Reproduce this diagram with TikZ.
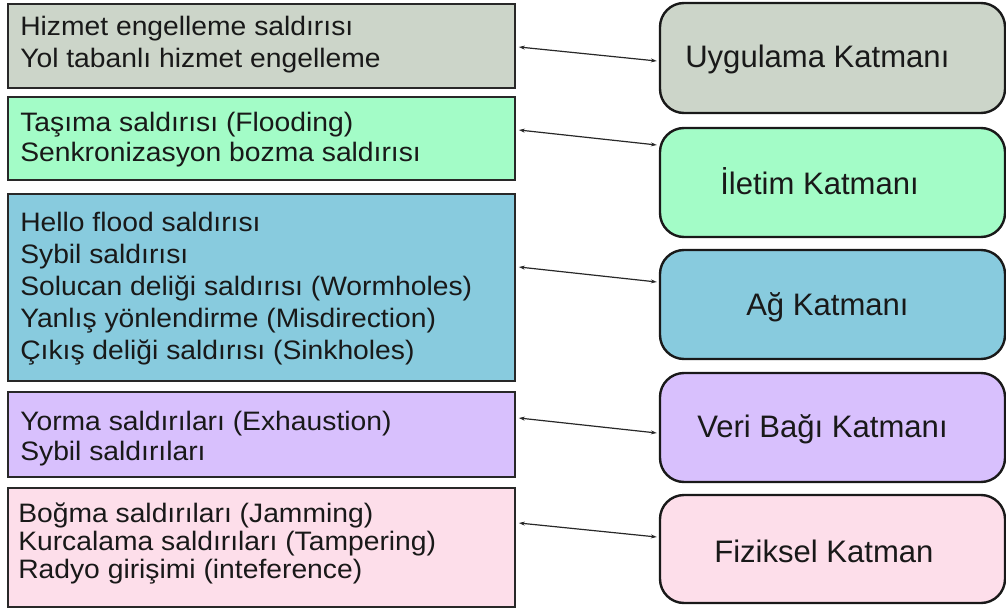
\documentclass[tikz,border=0pt]{standalone}
\usepackage{fontspec}
\setmainfont{Liberation Sans}
\newfontfamily\listfont[FakeStretch=1.06]{Liberation Sans}
\usetikzlibrary{arrows.meta,calc}

\definecolor{appfill}{RGB}{204,213,201}
\definecolor{transfill}{RGB}{163,252,199}
\definecolor{netfill}{RGB}{136,203,222}
\definecolor{linkfill}{RGB}{216,192,253}
\definecolor{physfill}{RGB}{253,222,234}
\definecolor{edge}{RGB}{40,40,40}
\definecolor{ink}{RGB}{25,25,25}

\tikzset{
  attackbox/.style={draw=edge, line width=1.3pt, rectangle, inner sep=0pt,
    minimum width=380.25pt},
  layerbox/.style={draw=black!90, line width=1.8pt, rectangle, rounded corners=18pt,
    inner sep=0pt, minimum width=258.75pt, minimum height=81.75pt},
  % anchored at the baseline of the last line of the list
  attacklist/.style={anchor=base west, align=left, text=ink, inner sep=0pt,
    font=\listfont\fontsize{20pt}{23.7pt}\selectfont},
  layerlabel/.style={anchor=base west, text=ink, inner sep=0pt,
    font=\fontsize{23.3pt}{28pt}\selectfont},
  link/.style={draw=edge, line width=0.9pt,
    {Stealth[length=4.5pt,width=3pt]}-{Stealth[length=4.5pt,width=3pt]}}
}

\begin{document}
\begin{tikzpicture}[x=0.75pt,y=-0.75pt]
\useasboundingbox (0,0) rectangle (1006,613);

% attack lists (left column)
\node[attackbox, fill=appfill,   minimum height=63pt]    (L1) at (261.5,46) {};
\node[attackbox, fill=transfill, minimum height=62.25pt] (L2) at (261.5,138.5) {};
\node[attackbox, fill=netfill,   minimum height=140.25pt] (L3) at (261.5,287.5) {};
\node[attackbox, fill=linkfill,  minimum height=63.75pt] (L4) at (261.5,434.5) {};
\node[attackbox, fill=physfill,  minimum height=89.25pt] (L5) at (261.5,547.5) {};

\node[attacklist] (T1) at (20,67.6) {Hizmet engelleme saldırısı\\Yol tabanlı hizmet engelleme};
\node[attacklist, font=\listfont\fontsize{20pt}{22.5pt}\selectfont] (T2) at (20,161.5)
  {Taşıma saldırısı (Flooding)\\Senkronizasyon bozma saldırısı};
\node[attacklist, font=\listfont\fontsize{20pt}{24pt}\selectfont] (T3) at (20,359.5)
  {Hello flood saldırısı\\Sybil saldırısı\\Solucan deliği saldırısı (Wormholes)\\Yanlış yönlendirme (Misdirection)\\Çıkış deliği saldırısı (Sinkholes)};
\node[attacklist, font=\listfont\fontsize{20pt}{22.5pt}\selectfont] (T4) at (20,460.5)
  {Yorma saldırıları (Exhaustion)\\Sybil saldırıları};
\node[attacklist, font=\listfont\fontsize{20pt}{21pt}\selectfont] (T5) at (18,578)
  {Boğma saldırıları (Jamming)\\Kurcalama saldırıları (Tampering)\\Radyo girişimi (inteference)};

% protocol layers (right column)
\node[layerbox, fill=appfill,   minimum height=82.5pt] (R1) at (832.5,58) {};
\node[layerbox, fill=transfill] (R2) at (832.5,182.5) {};
\node[layerbox, fill=netfill]   (R3) at (832.5,304.5) {};
\node[layerbox, fill=linkfill]  (R4) at (832.5,427.5) {};
\node[layerbox, fill=physfill, minimum height=81pt] (R5) at (832.5,549) {};

\node[layerlabel] (N1) at (685,68)  {Uygulama Katmanı};
\node[layerlabel] (N2) at (720,195) {İletim Katmanı};
\node[layerlabel] (N3) at (746,315) {Ağ Katmanı};
\node[layerlabel] (N4) at (697,437) {Veri Bağı Katmanı};
\node[layerlabel] (N5) at (714,562) {Fiziksel Katman};

% connectors between each list and its layer
\draw[link] ($(L1.east)+(3,1)$)     -- ($(R1.west)+(-2,3)$);
\draw[link] ($(L2.east)+(3,-8.5)$)  -- ($(R2.west)+(-2,-37.5)$);
\draw[link] ($(L3.east)+(3,-20.5)$) -- ($(R3.west)+(-2,-22.5)$);
\draw[link] ($(L4.east)+(3,-16.5)$) -- ($(R4.west)+(-2,5.5)$);
\draw[link] ($(L5.east)+(3,-24.5)$) -- ($(R5.west)+(-2,-12)$);
\end{tikzpicture}
\end{document}
